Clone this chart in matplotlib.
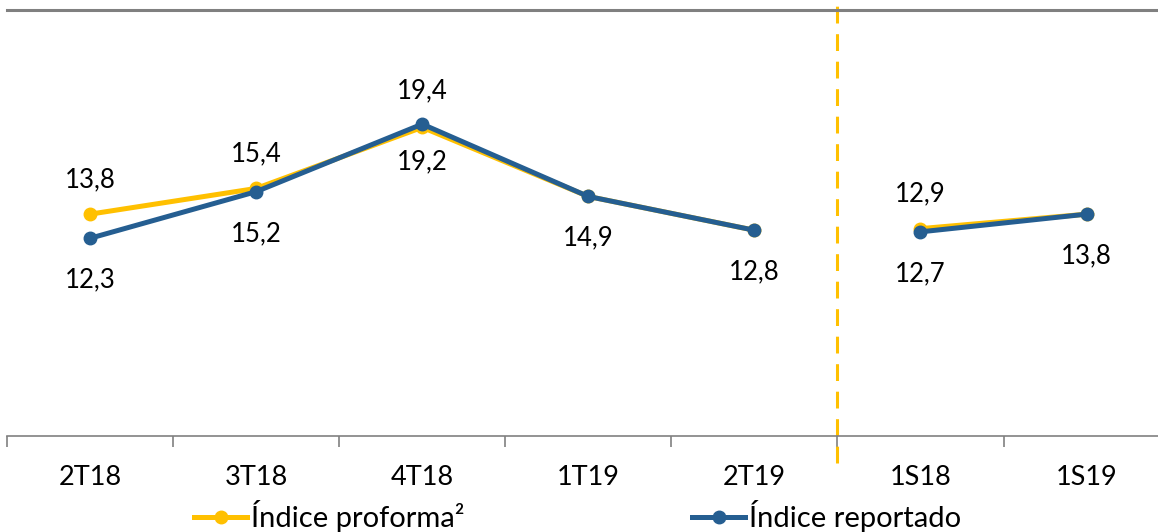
import matplotlib.pyplot as plt
from matplotlib.lines import Line2D

# data
categories = ['2T18', '3T18', '4T18', '1T19', '2T19', '1S18', '1S19']
proforma = [13.8, 15.4, 19.2, 14.9, 12.8, 12.9, 13.8]
reportado = [12.3, 15.2, 19.4, 14.9, 12.8, 12.7, 13.8]

# which labels to show and where (+1 above, -1 below, 0 hidden)
proforma_pos = [1, 1, -1, 0, 0, 1, 0]
reportado_pos = [-1, -1, 1, -1, -1, -1, -1]

yellow = '#FFC000'
blue = '#255E91'
plt.rcParams['font.family'] = ['Lato', 'DejaVu Sans']

fig = plt.figure(figsize=(11.58, 5.32), dpi=100)
ax = fig.add_axes([7 / 1158, 96 / 532, 1151 / 1158, 426 / 532])

x = list(range(len(categories)))
segments = [slice(0, 5), slice(5, 7)]
for s in segments:
    ax.plot(x[s], proforma[s], color=yellow, lw=3.6, marker='o', ms=9, zorder=3)
for s in segments:
    ax.plot(x[s], reportado[s], color=blue, lw=3.6, marker='o', ms=9, zorder=4)


def fmt(v):
    return f'{v:.1f}'.replace('.', ',')


for i, v in enumerate(proforma):
    if proforma_pos[i]:
        off = 25 if proforma_pos[i] > 0 else -25
        ax.annotate(fmt(v), (i, v), xytext=(0, off), textcoords='offset points',
                    ha='center', va='center', fontsize=18.5)
for i, v in enumerate(reportado):
    off = 24 if reportado_pos[i] > 0 else -30
    ax.annotate(fmt(v), (i, v), xytext=(0, off), textcoords='offset points',
                ha='center', va='center', fontsize=18.5)

# separator between quarters and semesters
ax.axvline(4.5, ymin=-0.063, ymax=1.012, color=yellow, lw=2.2,
           ls=(0, (5.5, 3.5)), zorder=2, clip_on=False)

ax.set_yticks([])
ax.set_xticks(x)
ax.set_xticklabels(categories, fontsize=19.5)
ax.set_xticks([i + 0.5 for i in range(-1, 7)], minor=True)
ax.tick_params(axis='x', which='major', length=0, pad=21)
ax.tick_params(axis='x', which='minor', length=8, width=1.2, color='#808080')
ax.set_xlim(-0.5, 6.43)
ax.set_ylim(0, 26.5)
for side in ['left', 'right']:
    ax.spines[side].set_visible(False)
ax.spines['bottom'].set_color('#808080')
ax.spines['bottom'].set_linewidth(1.2)
ax.spines['top'].set_color('#808080')
ax.spines['top'].set_linewidth(2.2)

handles = [
    Line2D([], [], color=yellow, lw=3.6, marker='o', ms=9),
    Line2D([], [], color=blue, lw=3.6, marker='o', ms=9),
]
fig.legend(handles, ['Índice proforma²', 'Índice reportado'], loc='center',
           bbox_to_anchor=(0.499, 0.03), ncol=2, frameon=False, fontsize=21,
           handlelength=1.8, handletextpad=0.15, columnspacing=7.8,
           borderpad=0.1)

fig.savefig('out.png', dpi=100)
